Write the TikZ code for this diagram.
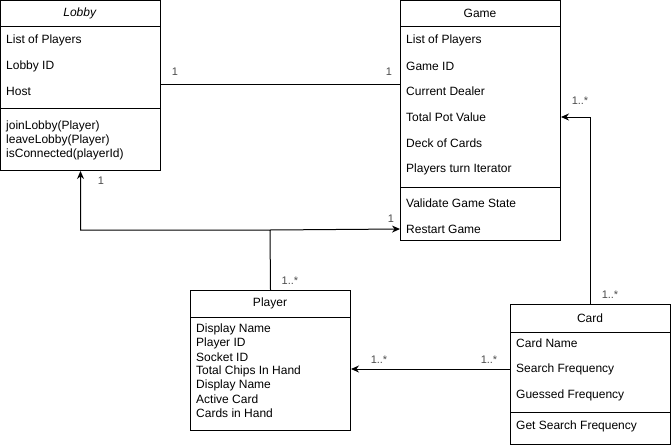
\documentclass[tikz,border=0pt]{standalone}
\usepackage{fontspec}
\setmainfont{Liberation Sans}
\usepackage{tikz}
\usetikzlibrary{arrows,arrows.meta,positioning,calc}
\tikzstyle{umlbox} = [draw,anchor=north west,inner sep=0pt,line width=1pt]
\tikzstyle{title}  = [inner sep=0pt]
\tikzstyle{member} = [anchor=west,inner sep=0pt]
\tikzstyle{mult}   = [inner sep=0pt,text=black!70,font=\fontsize{11}{13}\selectfont]
\tikzstyle{assoc}  = [line width=1pt]
\tikzstyle{navig}  = [line width=1pt,arrows={-Stealth[length=8pt,width=7pt]}]

\begin{document}
\begin{tikzpicture}[x=1pt,y=-1pt,font=\fontsize{12}{14}\selectfont]
      \useasboundingbox (0,0) rectangle (671,445);
      % Lobby
      \node (lobby)[umlbox,minimum width=160pt,minimum height=170pt] at (0,0) {};
      \node (lobbyT)[title] at (80,13) {\textit{Lobby}};
      \node (lobbyA1)[member] at (6,40) {List of Players};
      \node (lobbyA2)[member] at (6,66) {Lobby ID};
      \node (lobbyA3)[member] at (6,91) {Host};
      \node (lobbyM1)[member] at (6,126) {joinLobby(Player)};
      \node (lobbyM2)[member] at (6,140) {leaveLobby(Player)};
      \node (lobbyM3)[member] at (6,154) {isConnected(playerId)};
      \draw (0,26) -- (160,26);
      \draw (0,108) -- (160,108);

      % Game
      \node (game)[umlbox,minimum width=160pt,minimum height=240pt] at (400,0) {};
      \node (gameT)[title] at (480,13) {Game};
      \node (gameA1)[member] at (406,40) {List of Players};
      \node (gameA2)[member] at (406,66) {Game ID};
      \node (gameA3)[member] at (406,91) {Current Dealer};
      \node (gameA4)[member] at (406,117) {Total Pot Value};
      \node (gameA5)[member] at (406,143) {Deck of Cards};
      \node (gameA6)[member] at (406,169) {Players turn Iterator};
      \node (gameM1)[member] at (406,203) {Validate Game State};
      \node (gameM2)[member] at (406,229) {Restart Game};
      \draw (400,26) -- (560,26);
      \draw (400,187) -- (560,187);

      % Player
      \node (player)[umlbox,minimum width=160pt,minimum height=140pt] at (190,290) {};
      \node (playerT)[title] at (270,303.5) {Player};
      \node (playerA1)[member] at (196,329) {Display Name};
      \node (playerA2)[member] at (196,343) {Player ID};
      \node (playerA3)[member] at (196,357) {Socket ID};
      \node (playerA4)[member] at (196,371) {Total Chips In Hand};
      \node (playerA5)[member] at (196,385) {Display Name};
      \node (playerA6)[member] at (196,399) {Active Card};
      \node (playerA7)[member] at (196,413) {Cards in Hand};
      \draw (190,317) -- (350,317);

      % Card
      \node (card)[umlbox,minimum width=160pt,minimum height=140pt] at (510,304) {};
      \node (cardT)[title] at (590,318) {Card};
      \node (cardA1)[member] at (516,343) {Card Name};
      \node (cardA2)[member] at (516,369) {Search Frequency};
      \node (cardA3)[member] at (516,395) {Guessed Frequency};
      \node (cardM1)[member] at (516,426) {Get Search Frequency};
      \draw (510,332) -- (670,332);
      \draw (510,412) -- (670,412);

      % connectors
      \coordinate (join) at (270,230);
      \draw[assoc] ($(lobby.north east)+(0,84)$) -- ($(game.north west)+(0,84)$);
      \draw[navig] (player.north) -- (join) -| (lobby.south);
      \draw[navig] (join) -- (game.west |- gameM2);
      \draw[navig] (card.west |- cardA2) -- (player.east |- cardA2);
      \draw[navig] (card.north) |- (game.east |- gameA4);

      % multiplicities
      \node (m1)[mult] at (175,72) {1};
      \node (m2)[mult] at (389,72) {1};
      \node (m3)[mult] at (101,181) {1};
      \node (m4)[mult] at (391,219) {1};
      \node (m5)[mult] at (290,281) {1..*};
      \node (m6)[mult] at (379,360) {1..*};
      \node (m7)[mult] at (489,360) {1..*};
      \node (m8)[mult] at (580,101) {1..*};
      \node (m9)[mult] at (610,295) {1..*};
\end{tikzpicture}
\end{document}
